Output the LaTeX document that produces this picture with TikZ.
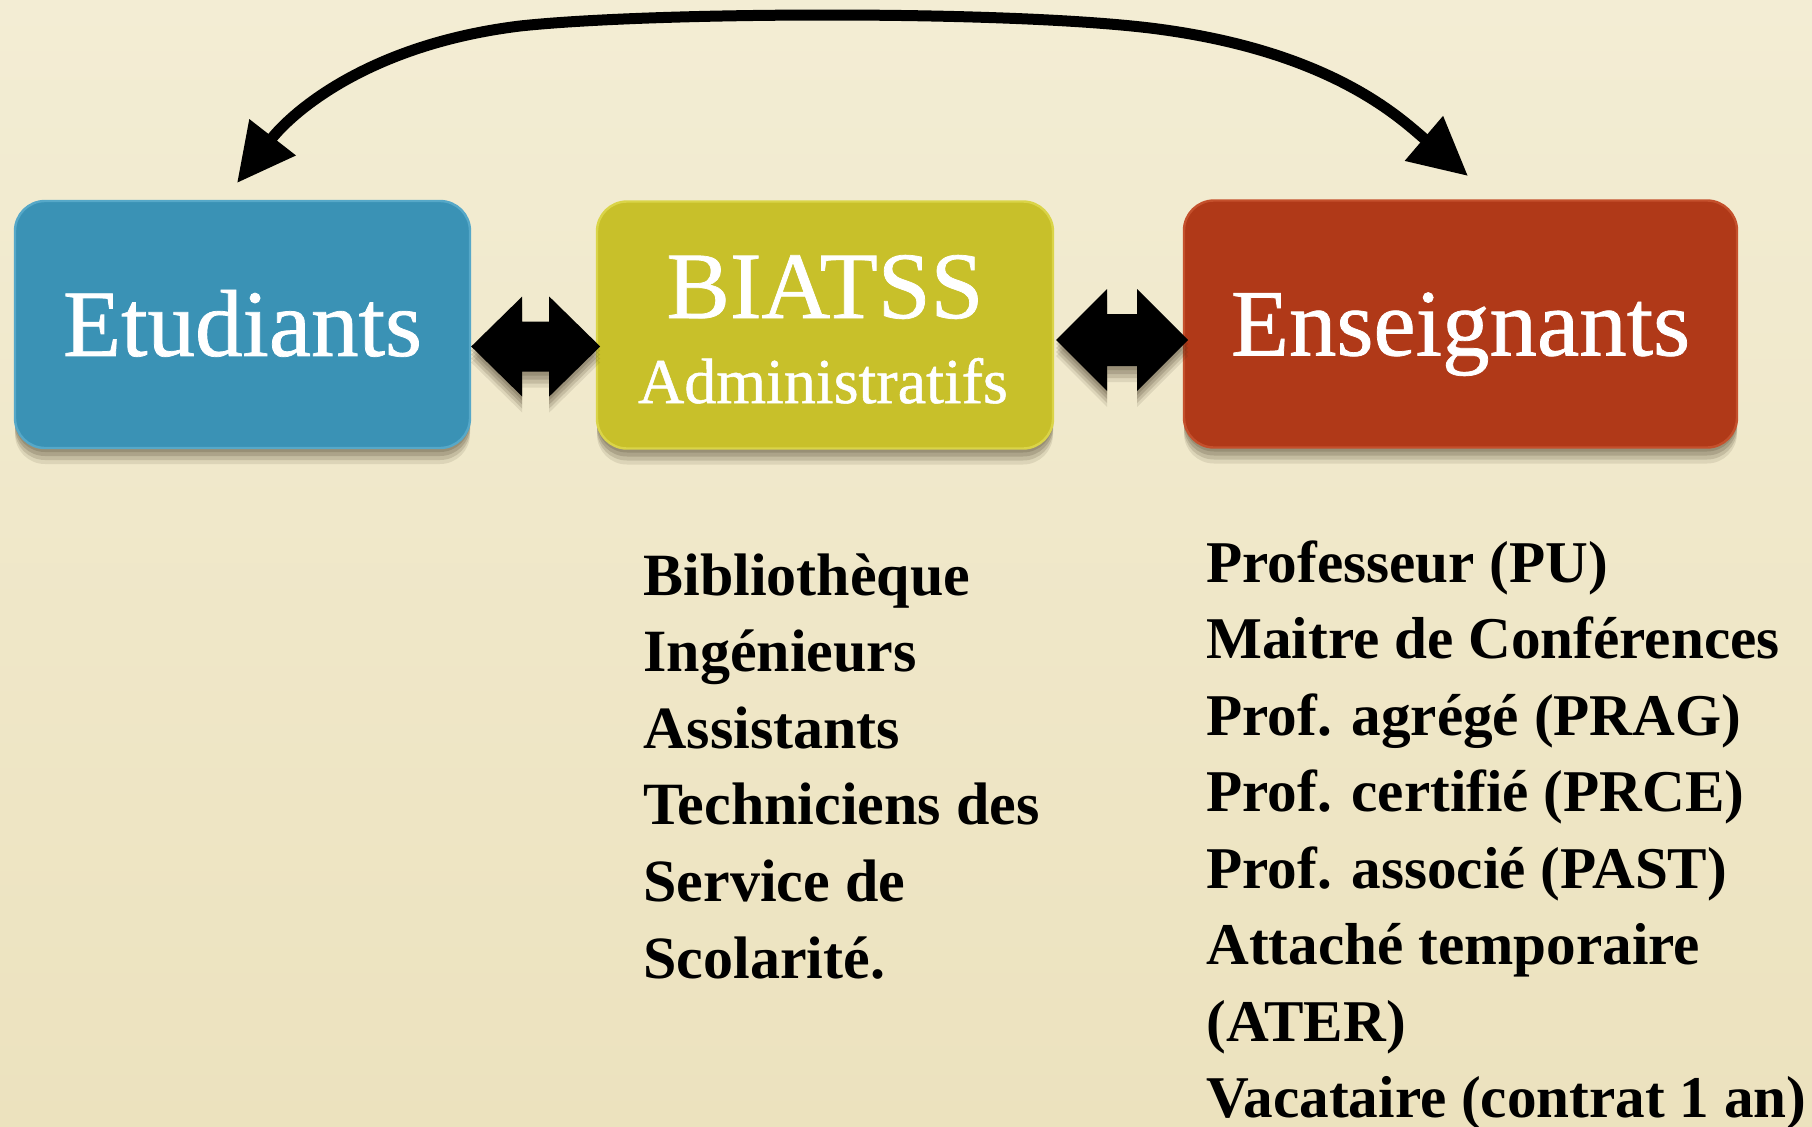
\documentclass[tikz,border=0pt]{standalone}
\usepackage{fontspec}
\setmainfont{Liberation Serif}
\newfontfamily\titlefont{Liberation Serif}[FakeBold=0.8]
\usetikzlibrary{arrows.meta,calc}
\definecolor{bgtop}{RGB}{243,237,212}
\definecolor{bgbot}{RGB}{236,226,190}
\definecolor{bluebox}{RGB}{58,146,181}
\definecolor{blueedge}{RGB}{86,168,200}
\definecolor{yelbox}{RGB}{200,192,42}
\definecolor{yeledge}{RGB}{218,212,72}
\definecolor{redbox}{RGB}{176,57,24}
\definecolor{rededge}{RGB}{196,80,44}
\definecolor{shadowc}{RGB}{50,40,20}
\tikzset{
  softshadow/.style={
    preaction={fill=shadowc,opacity=0.16,transform canvas={yshift=-2pt}},
    preaction={fill=shadowc,opacity=0.16,transform canvas={yshift=-4pt}},
    preaction={fill=shadowc,opacity=0.14,transform canvas={yshift=-6pt}},
    preaction={fill=shadowc,opacity=0.10,transform canvas={yshift=-8pt}}},
  box/.style={softshadow, line width=1.2pt, rounded corners=15pt,
    minimum height=123.5pt, inner sep=0pt, text=white,
    font=\titlefont\fontsize{47.5}{50}\selectfont, text height=31.4pt, text depth=0pt},
  sub/.style={text=white, inner sep=0pt, anchor=base},
  dbl/.style={fill=black, softshadow},
  item/.style={anchor=base west, inner sep=0pt, text=black,
    font=\fontsize{30}{32}\bfseries\selectfont},
  bigarrow/.style={line width=5.5pt,
    {Triangle[length=29pt,width=28pt]}-{Triangle[length=29pt,width=28pt]}}
}
\begin{document}
\begin{tikzpicture}[x=0.5pt,y=-0.5pt]
\shade[top color=bgtop,bottom color=bgbot] (0,0) rectangle (1812,1126);
\useasboundingbox (0,0) rectangle (1812,1126);

% boxes
\node[box, fill=bluebox, draw=blueedge, minimum width=227.5pt] (etu) at (242.5,324.5) {Etudiants};
\node[box, fill=yelbox, draw=yeledge, minimum width=228pt] (bia) at (825,325) {};
\node[box, fill=redbox, draw=rededge, minimum width=276.5pt] (ens) at (1460.5,324) {Enseignants};

\node[sub, font=\titlefont\fontsize{47.5}{50}\selectfont] (bt1) at (825,318) {BIATSS};
\node[sub, font=\titlefont\fontsize{32}{34}\selectfont] (bt2) at (823,403) {Administratifs};

% double arrows
\fill[dbl] ($(etu.east)+(0,22)$) -- ++(51,-50) -- ++(0,25) -- ++(27,0) -- ++(0,-25)
  -- ++(51,50) -- ++(-51,50) -- ++(0,-25) -- ++(-27,0) -- ++(0,25) -- cycle;
\fill[dbl] ($(bia.east)+(2,15)$) -- ++(51,-51) -- ++(0,25) -- ++(30,0) -- ++(0,-25)
  -- ++(51,51) -- ++(-51,51) -- ++(0,-25) -- ++(-30,0) -- ++(0,25) -- cycle;

% top curved arrow
\coordinate (cL) at (237,183);
\coordinate (cR) at (1468,176);
\draw[bigarrow] (cL) .. controls (290,115) and (365,45) .. (520,26)
  .. controls (650,12) and (1000,10) .. (1150,28)
  .. controls (1330,50) and (1400,118) .. (cR);

% lists
\foreach \t [count=\i] in {Bibliothèque, Ingénieurs, Assistants, Techniciens des, Service de, Scolarité.}
  \node[item] (b\i) at (643,{595+76.6*(\i-1)}) {\t};
\foreach \t [count=\i] in {Professeur (PU), Maitre de Conférences, Prof. agrégé (PRAG), Prof. certifié (PRCE), Prof. associé (PAST), Attaché temporaire, (ATER), Vacataire (contrat 1 an)}
  \node[item, font=\fontsize{29.6}{32}\bfseries\selectfont] (e\i) at (1206,{582+76.5*(\i-1)}) {\t};
\end{tikzpicture}
\end{document}
